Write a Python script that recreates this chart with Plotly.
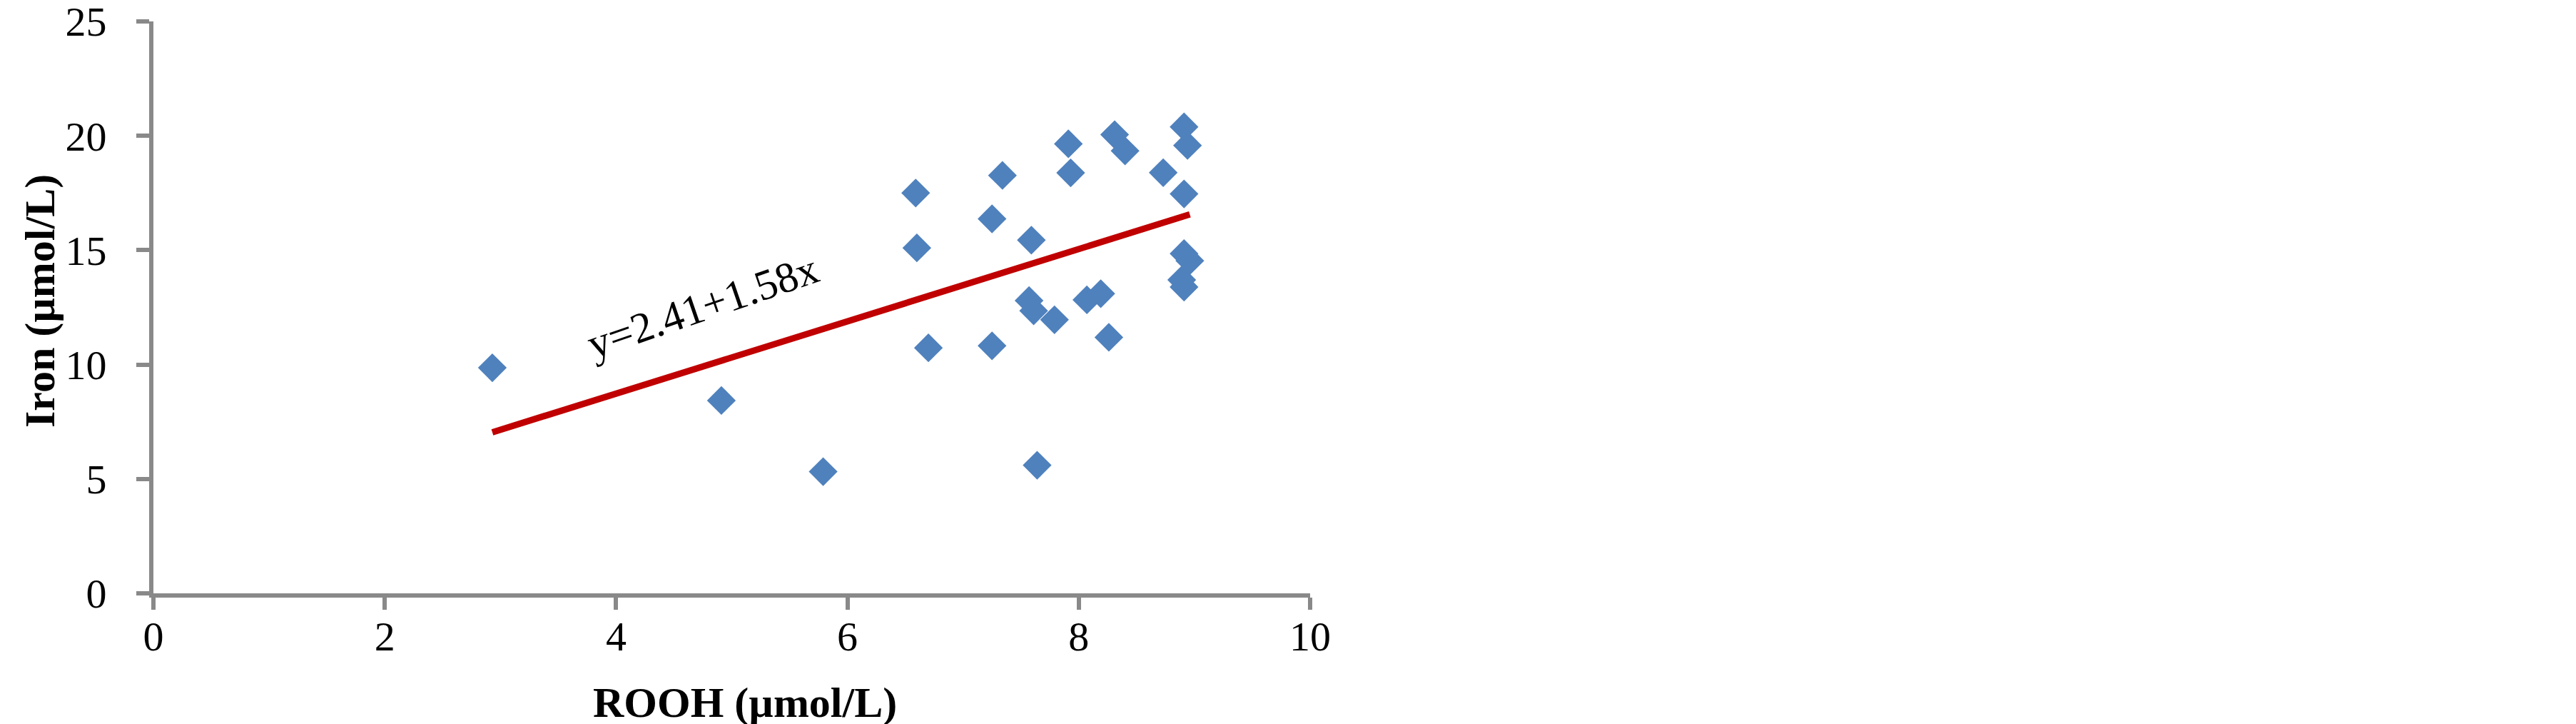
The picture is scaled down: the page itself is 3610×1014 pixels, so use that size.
import plotly.graph_objects as go

# Data
rooh = [2.93, 4.91, 5.79, 6.59, 6.60, 6.70, 7.25, 7.25, 7.34, 7.57, 7.59, 7.61, 7.64,
        7.79, 7.91, 7.93, 8.07, 8.19, 8.26, 8.31, 8.40, 8.73, 8.89, 8.91, 8.91, 8.91,
        8.91, 8.94, 8.96]
iron = [9.86, 8.43, 5.32, 17.50, 15.10, 10.73, 16.37, 10.82, 18.27, 12.80, 15.44, 12.35, 5.60,
        11.96, 19.65, 18.38, 12.83, 13.10, 11.19, 20.05, 19.34, 18.39, 13.70, 20.39, 17.46, 14.85,
        13.39, 19.58, 14.54]

intercept = 2.41
slope = 1.58
eq_label = "y=2.41+1.58x"

x_ticks = [0, 2, 4, 6, 8, 10]
y_ticks = [0, 5, 10, 15, 20, 25]
x_title = "ROOH (µmol/L)"
y_title = "Iron (µmol/L)"

fit_x = [min(rooh), max(rooh)]
fit_y = [intercept + slope * v for v in fit_x]

FONT = "Liberation Serif"
AXIS_COLOR = "#898989"

fig = go.Figure()
fig.add_trace(go.Scatter(
    x=rooh, y=iron, mode="markers",
    marker=dict(symbol="diamond", size=31, color="#4F81BD", line=dict(width=0)),
    showlegend=False, hoverinfo="x+y",
))
fig.add_trace(go.Scatter(
    x=fit_x, y=fit_y, mode="lines",
    line=dict(color="#C00000", width=9),
    showlegend=False,
))

W, H = 3610, 1014
L, R, T, B = 207, 1782, 22, 191

def px_to_paper_x(px):
    return (px - L) / (W - L - R)

def px_to_paper_y(py):
    return (H - B - py) / (H - T - B)

fig.add_annotation(
    x=4.75, y=12.56, xref="x", yref="y", text=eq_label, showarrow=False,
    textangle=-19, font=dict(family=FONT, size=60, color="black"),
    xanchor="center", yanchor="middle",
)
fig.add_annotation(
    x=px_to_paper_x(1036), y=px_to_paper_y(976), xref="paper", yref="paper",
    text="<b>" + x_title + "</b>", showarrow=False,
    font=dict(family=FONT, size=60, color="black"),
    xanchor="center", yanchor="middle",
)
fig.add_annotation(
    x=px_to_paper_x(48), y=px_to_paper_y(414), xref="paper", yref="paper",
    text="<b>" + y_title + "</b>", showarrow=False, textangle=-90,
    font=dict(family=FONT, size=60, color="black"),
    xanchor="center", yanchor="middle",
)

fig.update_layout(
    width=W, height=H,
    margin=dict(l=L, r=R, t=T, b=B, pad=0, autoexpand=False),
    paper_bgcolor="white", plot_bgcolor="white",
    font=dict(family=FONT, color="black"),
)
fig.update_xaxes(
    range=[0, 10], tickvals=x_ticks, ticktext=[str(v) for v in x_ticks],
    showgrid=False, zeroline=False, showline=True, linecolor=AXIS_COLOR, linewidth=6,
    ticks="outside", ticklen=17, tickwidth=6, tickcolor=AXIS_COLOR,
    tickfont=dict(family=FONT, size=58, color="black"), ticklabelstandoff=-13,
    ticklabeloverflow="allow", automargin=False,
)
fig.update_yaxes(
    range=[0, 25], tickvals=y_ticks, ticktext=[str(v) for v in y_ticks],
    showgrid=False, zeroline=False, showline=True, linecolor=AXIS_COLOR, linewidth=6,
    ticks="outside", ticklen=18, tickwidth=6, tickcolor=AXIS_COLOR,
    tickfont=dict(family=FONT, size=58, color="black"), ticklabelstandoff=30,
    ticklabeloverflow="allow", automargin=False,
)

fig.write_html("out.html")
